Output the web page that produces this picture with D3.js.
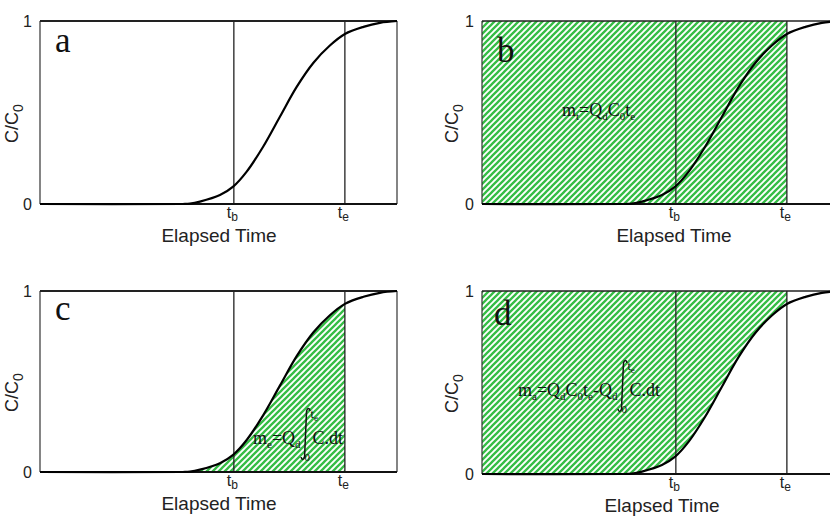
<!DOCTYPE html>
<html><head><meta charset="utf-8">
<script src="https://cdn.jsdelivr.net/npm/d3@7"></script>
<style>body{margin:0;background:#fff} svg{display:block}</style>
</head><body>
<svg id="chart" width="830" height="516"></svg>
<script>
// Breakthrough curve: normalised concentration C/C0 against normalised elapsed time
const timePoints = [0, 0.40, 0.42, 0.448, 0.504, 0.541, 0.579, 0.625, 0.672, 0.719, 0.766, 0.812, 0.854, 0.906, 0.952, 1.0];
const concRatio  = [0, 0, 0.002, 0.013, 0.049, 0.095, 0.177, 0.313, 0.477, 0.640, 0.772, 0.866, 0.929, 0.968, 0.990, 1.0];
const markerTimes  = [0.543, 0.854];          // breakthrough time t_b, end time t_e
const markerLabels = [["t", "b"], ["t", "e"]];
const yTicks = [0, 1];
const panelLetters = ["a", "b", "c", "d"];
const shadeModes   = ["none", "rect", "under", "over"];
const axisTitleX = "Elapsed Time";
const axisTitleY = ["C/C", "0"];
// mass-balance expressions: [text, subscript] pieces, "∫" = integral from 0 to t_e
const formulas = [
  null,
  [["m", "t"], ["=Q", "d"], ["C", "0"], ["t", "e"]],
  [["m", "e"], ["=Q", "d"], ["∫"], ["C.dt", ""]],
  [["m", "a"], ["=Q", "d"], ["C", "0"], ["t", "e"], ["-Q", "d"], ["∫"], ["C.dt", ""]]
];

const curveData = timePoints.map((t, i) => ({t, v: concRatio[i]}));
const tEnd = markerTimes[1];
const smooth = d3.curveCatmullRom.alpha(0.5);

// panel frames on the page
const layout = [
  {x0: 40,  x1: 397, y0: 21,  y1: 204, letter: [55, 52],   ylab: 18,  xtitle: 219, formula: null},
  {x0: 482, x1: 839, y0: 21,  y1: 204, letter: [497, 62],  ylab: 458, xtitle: 674, formula: [562, 116]},
  {x0: 40,  x1: 397, y0: 291, y1: 472, letter: [55, 320],  ylab: 18,  xtitle: 219, formula: [253, 444]},
  {x0: 482, x1: 839, y0: 291, y1: 474, letter: [494, 325], ylab: 458, xtitle: 662, formula: [518, 396]}
];

const sans = "'Liberation Sans', Arial, sans-serif";
const serif = "'Liberation Serif', 'Times New Roman', serif";
const green = "#35bd45";

const svg = d3.select("#chart");
const defs = svg.append("defs");

// diagonal hatch fill
const pat = defs.append("pattern")
  .attr("id", "hatch").attr("patternUnits", "userSpaceOnUse")
  .attr("width", 6).attr("height", 6);
pat.append("rect").attr("width", 6).attr("height", 6).attr("fill", "#fff");
pat.append("path")
  .attr("d", "M-1,1 l2,-2 M0,6 l6,-6 M5,7 l2,-2")
  .attr("stroke", green).attr("stroke-width", 2.3).attr("fill", "none");

layout.forEach((L, i) => {
  const x = d3.scaleLinear().domain([0, 1]).range([L.x0, L.x1]);
  const y = d3.scaleLinear().domain([0, 1]).range([L.y1, L.y0]);
  const g = svg.append("g");

  // region limited to times up to t_e
  const clipId = "clip" + i;
  defs.append("clipPath").attr("id", clipId).append("rect")
    .attr("x", x(0)).attr("y", y(1)).attr("width", x(tEnd) - x(0)).attr("height", y(0) - y(1));

  const mode = shadeModes[i];
  if (mode === "rect") {
    g.append("rect")
      .attr("x", x(0)).attr("y", y(1)).attr("width", x(tEnd) - x(0)).attr("height", y(0) - y(1))
      .attr("fill", "url(#hatch)");
  } else if (mode === "under" || mode === "over") {
    const area = d3.area()
      .x(d => x(d.t))
      .y0(mode === "under" ? y(0) : y(1))
      .y1(d => y(d.v))
      .curve(smooth);
    g.append("path").datum(curveData)
      .attr("d", area).attr("fill", "url(#hatch)")
      .attr("clip-path", `url(#${clipId})`);
  }

  // t_b / t_e markers
  g.selectAll("line.marker").data(markerTimes).join("line")
    .attr("class", "marker")
    .attr("x1", d => x(d)).attr("x2", d => x(d))
    .attr("y1", y(0)).attr("y2", y(1))
    .attr("stroke", "#222").attr("stroke-width", 1.3);

  // frame
  g.append("line").attr("x1", x(0)).attr("x2", x(0)).attr("y1", y(0)).attr("y2", y(1))
    .attr("stroke", "#333").attr("stroke-width", 1.2);
  g.append("line").attr("x1", x(1)).attr("x2", x(1)).attr("y1", y(0)).attr("y2", y(1))
    .attr("stroke", "#333").attr("stroke-width", 1.2);
  g.append("line").attr("x1", x(0)).attr("x2", x(1)).attr("y1", y(1)).attr("y2", y(1))
    .attr("stroke", "#222").attr("stroke-width", i % 2 === 0 ? 2 : 1.5);
  g.append("line").attr("x1", x(0)).attr("x2", x(1)).attr("y1", y(0)).attr("y2", y(0))
    .attr("stroke", "#111").attr("stroke-width", 2);

  // breakthrough curve
  g.append("path").datum(curveData)
    .attr("d", d3.line().x(d => x(d.t)).y(d => y(d.v)).curve(smooth))
    .attr("fill", "none").attr("stroke", "#000").attr("stroke-width", 2.2);

  // y axis ticks
  const ya = g.append("g").attr("transform", `translate(${L.x0},0)`)
    .call(d3.axisLeft(y).tickValues(yTicks).tickSize(0).tickPadding(8).tickFormat(d3.format("d")));
  ya.select(".domain").remove();
  ya.selectAll("text").attr("font-family", sans).attr("font-size", 16).attr("fill", "#222");

  // x axis ticks with subscripted labels
  const xa = g.append("g").attr("transform", `translate(0,${L.y1})`)
    .call(d3.axisBottom(x).tickValues(markerTimes).tickSize(0).tickFormat(""));
  xa.select(".domain").remove();
  xa.selectAll(".tick text").each(function (d, k) {
    const t = d3.select(this).text(null)
      .attr("y", 0).attr("dy", null).attr("x", -2)
      .attr("font-family", sans).attr("fill", "#222").attr("text-anchor", "middle");
    t.append("tspan").attr("font-size", 16).attr("dy", 14).text(markerLabels[k][0]);
    t.append("tspan").attr("font-size", 12).attr("dy", 3).text(markerLabels[k][1]);
  });

  // axis titles
  g.append("text").attr("x", L.xtitle).attr("y", L.y1 + 38)
    .attr("text-anchor", "middle").attr("font-family", sans).attr("font-size", 19).attr("fill", "#222")
    .text(axisTitleX);
  const yt = g.append("text")
    .attr("transform", `translate(${L.ylab},${(L.y0 + L.y1) / 2 + 11}) rotate(-90)`)
    .attr("text-anchor", "middle").attr("font-family", sans).attr("fill", "#222");
  yt.append("tspan").attr("font-size", 18).text(axisTitleY[0]);
  yt.append("tspan").attr("font-size", 14).attr("dy", 5).text(axisTitleY[1]);

  // panel letter
  g.append("text").attr("x", L.letter[0]).attr("y", L.letter[1])
    .attr("font-family", serif).attr("font-size", 35).attr("fill", "#111")
    .text(panelLetters[i]);

  // expression
  const f = formulas[i];
  if (f) {
    let cx = L.formula[0];
    const b = L.formula[1];
    f.forEach(piece => {
      if (piece[0] === "∫") {
        const ix = cx + 5, top = b - 36, bot = b + 16;
        g.append("path")
          .attr("d", `M${ix + 4.5},${top + 3} C${ix + 4},${top} ${ix + 2},${top - 0.5} ${ix + 1},${top + 3} ` +
                     `L${ix - 1},${bot - 3} C${ix - 2},${bot + 0.5} ${ix - 4},${bot} ${ix - 4.5},${bot - 3}`)
          .attr("fill", "none").attr("stroke", "#111").attr("stroke-width", 1.5);
        const up = g.append("text").attr("x", ix + 5).attr("y", b - 26)
          .attr("font-family", serif).attr("fill", "#111");
        up.append("tspan").attr("font-size", 12).text(markerLabels[1][0]);
        up.append("tspan").attr("font-size", 9).attr("dy", 3).text(markerLabels[1][1]);
        g.append("text").attr("x", ix - 1).attr("y", b + 17)
          .attr("font-family", serif).attr("font-size", 11).attr("fill", "#111").text("0");
        cx += 12;
      } else {
        const t = g.append("text").attr("x", cx).attr("y", b)
          .attr("font-family", serif).attr("fill", "#111");
        t.append("tspan").attr("font-size", 18).text(piece[0]);
        if (piece[1]) t.append("tspan").attr("font-size", 11).attr("dy", 4).text(piece[1]);
        cx += t.node().getComputedTextLength();
      }
    });
  }
});
</script>
</body></html>
